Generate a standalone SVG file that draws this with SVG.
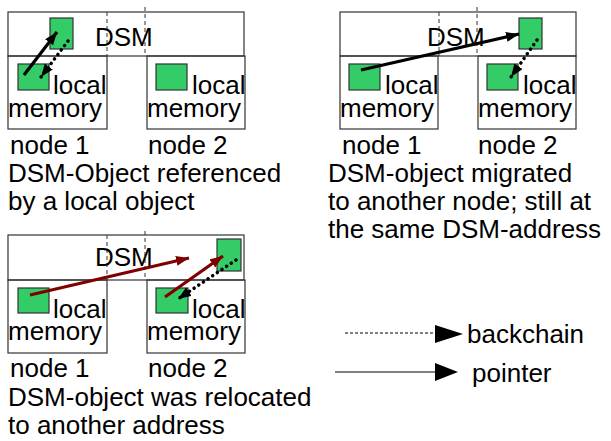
<svg xmlns="http://www.w3.org/2000/svg" width="611" height="441" viewBox="0 0 611 441">
<style>
.box{fill:none;stroke:#333;stroke-width:1.2}
.dash{fill:none;stroke:#333;stroke-width:1;stroke-dasharray:4 3}
.obj{fill:#33cc66;stroke:#333;stroke-width:1.2}
text{font-family:"Liberation Sans",Arial,sans-serif;font-size:26px;fill:#000}
.ptr{stroke:#000;stroke-width:3.2;fill:none}
.ptrr{stroke:#800000;stroke-width:3.2;fill:none}
.back{stroke:#000;stroke-width:3.5;fill:none;stroke-dasharray:0.1 5.5;stroke-linecap:round}
</style>
<defs>
<marker id="ah" markerUnits="userSpaceOnUse" markerWidth="14" markerHeight="12" refX="13" refY="5" orient="auto" viewBox="0 0 14 12">
<path d="M0,0 L13,5 L0,10 z" fill="#000"/>
</marker>
<marker id="ahr" markerUnits="userSpaceOnUse" markerWidth="14" markerHeight="12" refX="13" refY="5" orient="auto" viewBox="0 0 14 12">
<path d="M0,0 L13,5 L0,10 z" fill="#800000"/>
</marker>
</defs>

<g id="panel1">
<g id="p1-dsm">
<rect class="box" x="8" y="12" width="236" height="44"/>
<line class="dash" x1="107" y1="12" x2="107" y2="56"/>
<line class="dash" x1="145" y1="7" x2="145" y2="56"/>
<text x="95" y="46">DSM</text>
<rect class="obj" x="50" y="18" width="23" height="31"/>
</g>
<g id="p1-node1">
<rect class="box" x="8" y="56" width="99" height="73"/>
<rect class="obj" x="18" y="64" width="31" height="26"/>
<text x="53" y="94">local</text>
<text x="8" y="117">memory</text>
<text x="10" y="154">node 1</text>
</g>
<g id="p1-node2">
<rect class="box" x="147" y="56" width="98" height="73"/>
<rect class="obj" x="156" y="64" width="31" height="26"/>
<text x="192" y="94">local</text>
<text x="147" y="117">memory</text>
<text x="148" y="154">node 2</text>
</g>
<g id="p1-caption">
<text x="8" y="182">DSM-Object referenced</text>
<text x="8" y="210">by a local object</text>
</g>
</g>

<g id="panel2">
<g id="p2-dsm">
<rect class="box" x="340" y="12" width="236" height="44"/>
<line class="dash" x1="439" y1="12" x2="439" y2="56"/>
<line class="dash" x1="477" y1="7" x2="477" y2="56"/>
<text x="427" y="46">DSM</text>
<rect class="obj" x="519" y="18" width="23" height="31"/>
</g>
<g id="p2-node1">
<rect class="box" x="340" y="56" width="98" height="73"/>
<rect class="obj" x="349" y="64" width="31" height="26"/>
<text x="385" y="94">local</text>
<text x="340" y="117">memory</text>
<text x="342" y="154">node 1</text>
</g>
<g id="p2-node2">
<rect class="box" x="478" y="56" width="98" height="73"/>
<rect class="obj" x="487" y="64" width="31" height="26"/>
<text x="523" y="94">local</text>
<text x="478" y="117">memory</text>
<text x="478" y="154">node 2</text>
</g>
<g id="p2-caption">
<text x="328" y="182">DSM-object migrated</text>
<text x="328" y="210">to another node; still at</text>
<text x="328" y="238">the same DSM-address</text>
</g>
</g>

<g id="panel3">
<g id="p3-dsm">
<rect class="box" x="8" y="235" width="236" height="45"/>
<line class="dash" x1="107" y1="235" x2="107" y2="280"/>
<line class="dash" x1="145" y1="231" x2="145" y2="280"/>
<text x="95" y="266">DSM</text>
<rect class="obj" x="217" y="239" width="24" height="32"/>
</g>
<g id="p3-node1">
<rect class="box" x="8" y="280" width="99" height="73"/>
<rect class="obj" x="18" y="288" width="31" height="25"/>
<text x="53" y="318">local</text>
<text x="8" y="340">memory</text>
<text x="10" y="377">node 1</text>
</g>
<g id="p3-node2">
<rect class="box" x="147" y="280" width="98" height="73"/>
<rect class="obj" x="156" y="288" width="32" height="25"/>
<text x="192" y="318">local</text>
<text x="147" y="340">memory</text>
<text x="148" y="377">node 2</text>
</g>
<g id="p3-caption">
<text x="8" y="406">DSM-object was relocated</text>
<text x="8" y="434">to another address</text>
</g>
</g>

<g id="legend">
<line x1="345" y1="333" x2="437" y2="333" stroke="#000" stroke-width="1" stroke-dasharray="3 2"/>
<path d="M435,325 L463,334 L435,343 z" fill="#000"/>
<text x="467" y="343">backchain</text>
<line x1="335" y1="372" x2="437" y2="372" stroke="#000" stroke-width="1"/>
<path d="M435,363 L458,372 L435,381 z" fill="#000"/>
<text x="472" y="382">pointer</text>
</g>

<g id="connectors">
<line class="ptr" x1="24" y1="75" x2="57" y2="32" marker-end="url(#ah)"/>
<line class="back" x1="68" y1="41" x2="41" y2="77" marker-end="url(#ah)"/>
<line class="ptr" x1="361" y1="70" x2="519" y2="34" marker-end="url(#ah)"/>
<line class="back" x1="537" y1="40" x2="511" y2="77" marker-end="url(#ah)"/>
<line class="ptrr" x1="30" y1="295" x2="189" y2="258" marker-end="url(#ahr)"/>
<line class="ptrr" x1="165" y1="297" x2="223" y2="256" marker-end="url(#ahr)"/>
<line class="back" x1="236" y1="260" x2="178" y2="299" marker-end="url(#ah)"/>
</g>
</svg>
